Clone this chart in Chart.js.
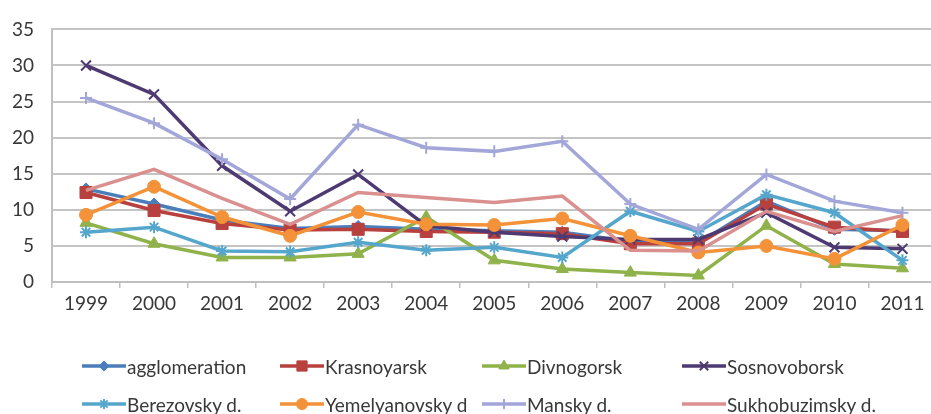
<!DOCTYPE html>
<html>
<head>
<meta charset="utf-8">
<script src="https://cdn.jsdelivr.net/npm/chart.js@4.4.1/dist/chart.umd.min.js"></script>
<style>
    html, body { margin: 0; padding: 0; background: #fff; overflow: hidden; }
    #wrap { position: absolute; left: 0; top: 0; width: 946px; height: 320px; }
    #legenda { position: absolute; left: 0; top: 0; width: 931px; height: 414px; pointer-events: none; }
    .item { position: absolute; height: 24px; display: flex; align-items: center;
            font-family: Lato, "Open Sans", sans-serif; font-size: 19px; color: #383838; white-space: nowrap; }
    .item canvas { display: block; }
</style>
</head>
<body>
<div id="wrap"><canvas id="grafico" width="946" height="320"></canvas></div>
<div id="legenda"></div>

<script>
// Anos (eixo X)
const anos = ['1999', '2000', '2001', '2002', '2003', '2004', '2005', '2006', '2007', '2008', '2009', '2010', '2011'];

// Séries
const agglomeration = [12.9, 10.8, 8.6, 7.4, 7.7, 7.3, 7.1, 6.9, 5.6, 5.4, 11.2, 7.3, 7.1];
const krasnoyarsk   = [12.4, 9.9, 8.1, 7.2, 7.3, 7.0, 6.9, 6.7, 5.3, 5.3, 10.8, 7.6, 7.0];
const divnogorsk    = [8.2, 5.3, 3.4, 3.4, 3.9, 9.0, 3.0, 1.8, 1.3, 0.9, 7.8, 2.5, 1.9];
const sosnovoborsk  = [30.0, 26.0, 16.1, 9.8, 14.9, 7.8, 6.9, 6.3, 5.9, 5.9, 9.6, 4.8, 4.6];
const berezovsky    = [6.9, 7.6, 4.3, 4.2, 5.5, 4.4, 4.8, 3.4, 9.8, 7.0, 12.1, 9.6, 3.0];
const yemelyanovsky = [9.3, 13.2, 9.0, 6.4, 9.7, 8.0, 7.9, 8.8, 6.4, 4.1, 5.0, 3.2, 7.9];
const mansky        = [25.5, 22.0, 17.0, 11.5, 21.8, 18.6, 18.1, 19.5, 10.8, 7.3, 14.9, 11.2, 9.6];
const sukhobuzimsky = [12.7, 15.6, 11.6, 8.0, 12.4, 11.7, 11.0, 11.9, 4.4, 4.3, 9.8, 7.0, 9.2];

// Marcas do eixo Y
const marcasY = [0, 5, 10, 15, 20, 25, 30, 35];

// Estilo de cada série: nome, dados, cor, marcador
const series = [
    { nome: 'agglomeration',     dados: agglomeration, cor: '#4a7ebb', ponto: 'rectRot',  raio: 6 },
    { nome: 'Krasnoyarsk',       dados: krasnoyarsk,   cor: '#b8403e', ponto: 'rect',     raio: 8.5 },
    { nome: 'Divnogorsk',        dados: divnogorsk,    cor: '#8fb24a', ponto: 'triangle', raio: 7 },
    { nome: 'Sosnovoborsk',      dados: sosnovoborsk,  cor: '#4e3a72', ponto: 'crossRot', raio: 7 },
    { nome: 'Berezovsky d.',     dados: berezovsky,    cor: '#55a6cc', ponto: 'star',     raio: 6 },
    { nome: 'Yemelyanovsky d',   dados: yemelyanovsky, cor: '#f39238', ponto: 'circle',   raio: 6.5 },
    { nome: 'Mansky d.',         dados: mansky,        cor: '#a2a6d8', ponto: 'cross',    raio: 6 },
    { nome: 'Sukhobuzimsky d.',  dados: sukhobuzimsky, cor: '#d9908e', ponto: false,      raio: 0 }
];

const fonteEixo = { family: 'Lato, "Open Sans", sans-serif', size: 19 };

const datasets = series.map((s, i) => ({
    label: s.nome,
    data: s.dados,
    borderColor: s.cor,
    backgroundColor: s.cor,
    borderWidth: 3.5,
    pointStyle: s.ponto,
    pointRadius: s.raio,
    pointBorderWidth: (s.ponto === 'cross' || s.ponto === 'crossRot' || s.ponto === 'star') ? 2 : 1,
    tension: 0,
    order: series.length - i // Excel desenha as últimas séries por cima
}));

const ctx = document.getElementById('grafico').getContext('2d');
const grafico = new Chart(ctx, {
    type: 'line',
    data: { labels: anos, datasets: datasets },
    options: {
        responsive: false,
        animation: false,
        layout: { padding: { top: 27, left: 0, right: 0, bottom: 0 } },
        plugins: { legend: { display: false }, tooltip: { enabled: false } },
        scales: {
            x: {
                offset: true,
                grid: { display: true, offset: true, drawOnChartArea: false, drawTicks: true, tickLength: 6, color: '#bfbfbf', lineWidth: 1.5 },
                border: { display: true, color: '#bfbfbf', width: 2 },
                ticks: { color: '#383838', font: fonteEixo, padding: 4, maxRotation: 0, autoSkip: false },
                afterFit: scale => { scale.height = 38; }
            },
            y: {
                min: 0,
                max: 35,
                afterBuildTicks: scale => { scale.ticks = marcasY.map(v => ({ value: v })); },
                grid: { color: '#c4c4c4', lineWidth: 2, drawTicks: false },
                border: { display: true, color: '#bfbfbf', width: 2 },
                ticks: { color: '#383838', font: fonteEixo, padding: 18 },
                afterFit: scale => { scale.width = 52; }
            }
        }
    }
});

// Legenda montada à mão, com as posições do original
const posicoes = [
    [82, 366], [280, 366], [482, 366], [682, 366],
    [82, 404], [280, 404], [482, 404], [682, 404]
];

const legendaDiv = document.getElementById('legenda');
series.forEach((s, i) => {
    const item = document.createElement('div');
    item.className = 'item';
    item.style.left = posicoes[i][0] + 'px';
    item.style.top = (posicoes[i][1] - 12) + 'px';

    const c = document.createElement('canvas');
    c.width = 45;
    c.height = 24;
    const g = c.getContext('2d');
    g.strokeStyle = s.cor;
    g.lineWidth = 3.5;
    g.beginPath();
    g.moveTo(0, 12);
    g.lineTo(44, 12);
    g.stroke();
    if (s.ponto) {
        g.fillStyle = s.cor;
        g.lineWidth = (s.ponto === 'cross' || s.ponto === 'crossRot' || s.ponto === 'star') ? 2 : 1;
        Chart.helpers.drawPoint(g, { pointStyle: s.ponto, radius: s.raio * 0.85, rotation: 0, borderWidth: g.lineWidth }, 22, 12);
    }

    const texto = document.createElement('span');
    texto.textContent = s.nome;

    item.appendChild(c);
    item.appendChild(texto);
    legendaDiv.appendChild(item);
});
</script>
</body>
</html>
